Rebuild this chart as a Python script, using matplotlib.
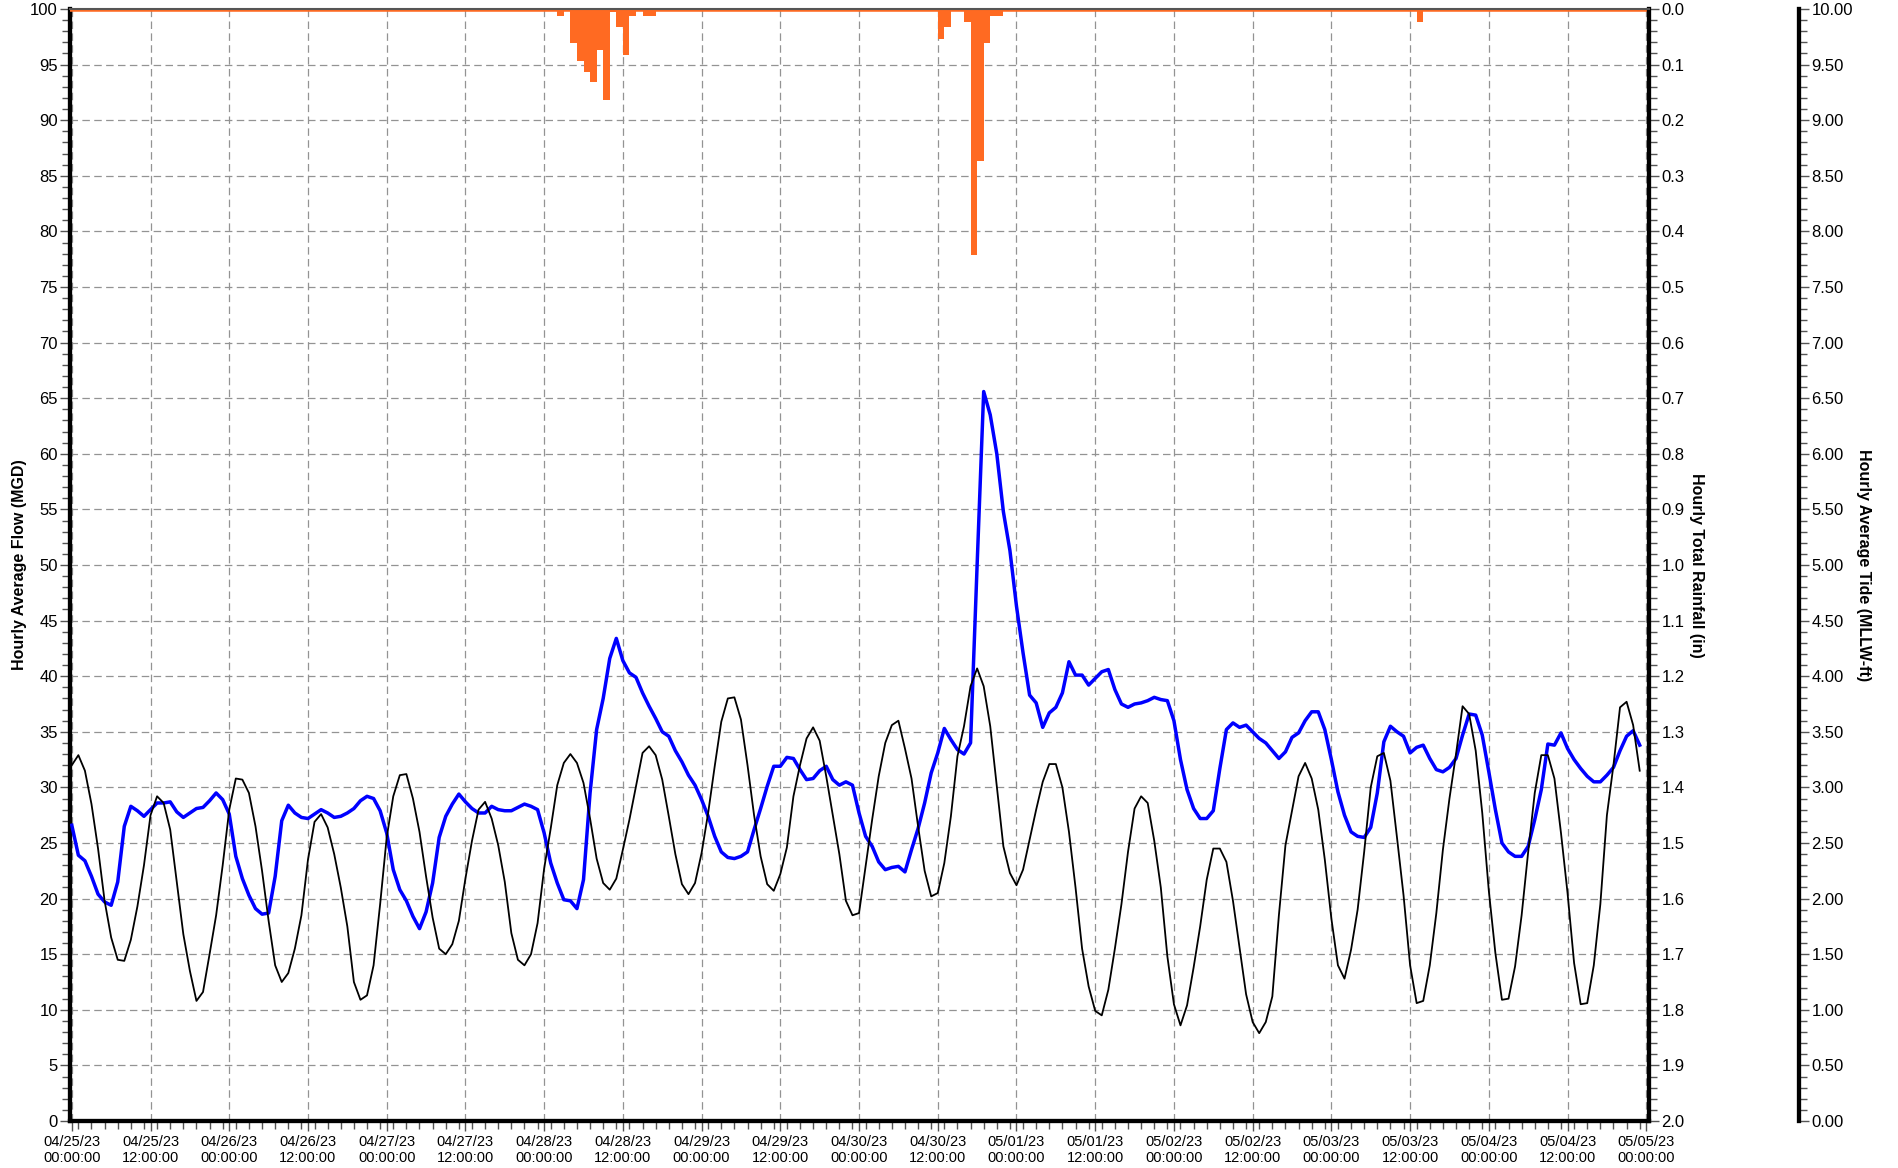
import matplotlib
matplotlib.use("Agg")
import matplotlib.pyplot as plt
import matplotlib.dates as mdates
from matplotlib.ticker import MultipleLocator, FormatStrFormatter
import pandas as pd

plt.rcParams['font.family'] = ['Liberation Sans', 'DejaVu Sans']

# hourly readings, 04/25/23 00:00 .. 05/04/23 23:00
start = pd.Timestamp("2023-04-25 00:00")

flow_mgd = [
    26.6, 23.9, 23.4, 22.0, 20.4, 19.7, 19.4, 21.5, 26.5, 28.3,
    27.9, 27.4, 28.0, 28.6, 28.6, 28.7, 27.8, 27.3, 27.7, 28.1,
    28.2, 28.8, 29.5, 28.9, 27.6, 23.8, 21.8, 20.3, 19.1, 18.6,
    18.7, 22.0, 27.0, 28.4, 27.7, 27.3, 27.2, 27.6, 28.0, 27.7,
    27.3, 27.4, 27.7, 28.1, 28.8, 29.2, 29.0, 27.9, 25.9, 22.6,
    20.8, 19.8, 18.4, 17.3, 18.8, 21.4, 25.5, 27.4, 28.5, 29.4,
    28.7, 28.1, 27.7, 27.7, 28.3, 28.0, 27.9, 27.9, 28.2, 28.5,
    28.3, 28.0, 25.9, 23.2, 21.4, 19.9, 19.8, 19.1, 21.7, 29.5,
    35.2, 38.0, 41.6, 43.4, 41.4, 40.3, 39.9, 38.5, 37.3, 36.2,
    35.0, 34.6, 33.3, 32.3, 31.1, 30.2, 28.9, 27.4, 25.6, 24.2,
    23.7, 23.6, 23.8, 24.2, 26.2, 28.1, 30.1, 31.9, 31.9, 32.7,
    32.6, 31.6, 30.7, 30.8, 31.5, 31.9, 30.7, 30.2, 30.5, 30.2,
    27.7, 25.6, 24.7, 23.3, 22.6, 22.8, 22.9, 22.4, 24.4, 26.3,
    28.6, 31.3, 33.1, 35.3, 34.3, 33.4, 33.0, 34.0, 50.0, 65.6,
    63.5, 60.0, 54.8, 51.3, 46.3, 42.1, 38.3, 37.6, 35.4, 36.7,
    37.2, 38.5, 41.3, 40.1, 40.1, 39.2, 39.8, 40.4, 40.6, 38.8,
    37.5, 37.2, 37.5, 37.6, 37.8, 38.1, 37.9, 37.8, 36.0, 32.5,
    29.8, 28.1, 27.2, 27.2, 27.9, 31.7, 35.2, 35.8, 35.4, 35.6,
    35.0, 34.4, 34.0, 33.3, 32.6, 33.2, 34.5, 34.9, 36.0, 36.8,
    36.8, 35.2, 32.5, 29.6, 27.5, 26.0, 25.6, 25.5, 26.4, 29.5,
    34.1, 35.5, 35.0, 34.6, 33.1, 33.6, 33.8, 32.6, 31.6, 31.4,
    31.8, 32.6, 34.7, 36.6, 36.5, 34.7, 31.4, 28.0, 25.0, 24.2,
    23.8, 23.8, 24.7, 27.1, 29.8, 33.9, 33.8, 34.9, 33.5, 32.5,
    31.7, 31.0, 30.5, 30.5, 31.1, 31.8, 33.3, 34.6, 35.1, 33.8,
]

tide_ft = [
    3.20, 3.29, 3.15, 2.85, 2.45, 1.98, 1.65, 1.45, 1.44, 1.63,
    1.93, 2.30, 2.75, 2.92, 2.86, 2.62, 2.15, 1.68, 1.35, 1.08,
    1.16, 1.50, 1.85, 2.30, 2.80, 3.08, 3.07, 2.95, 2.65, 2.25,
    1.80, 1.40, 1.25, 1.33, 1.55, 1.85, 2.35, 2.69, 2.76, 2.64,
    2.40, 2.10, 1.75, 1.25, 1.09, 1.13, 1.40, 1.95, 2.55, 2.92,
    3.11, 3.12, 2.90, 2.60, 2.20, 1.83, 1.55, 1.50, 1.59, 1.80,
    2.18, 2.52, 2.80, 2.87, 2.72, 2.48, 2.15, 1.69, 1.45, 1.40,
    1.50, 1.78, 2.27, 2.63, 3.02, 3.22, 3.30, 3.22, 3.04, 2.72,
    2.36, 2.14, 2.08, 2.18, 2.44, 2.71, 3.01, 3.31, 3.37, 3.29,
    3.07, 2.74, 2.40, 2.13, 2.04, 2.14, 2.41, 2.77, 3.19, 3.59,
    3.80, 3.81, 3.61, 3.20, 2.75, 2.38, 2.13, 2.07, 2.22, 2.46,
    2.92, 3.20, 3.44, 3.54, 3.42, 3.10, 2.75, 2.40, 1.98, 1.85,
    1.87, 2.29, 2.71, 3.10, 3.40, 3.56, 3.60, 3.35, 3.08, 2.65,
    2.25, 2.02, 2.05, 2.32, 2.74, 3.28, 3.55, 3.91, 4.07, 3.91,
    3.55, 3.01, 2.47, 2.23, 2.12, 2.26, 2.53, 2.80, 3.05, 3.21,
    3.21, 3.00, 2.60, 2.10, 1.55, 1.21, 0.99, 0.95, 1.18, 1.55,
    1.95, 2.42, 2.81, 2.92, 2.86, 2.52, 2.10, 1.48, 1.05, 0.86,
    1.04, 1.38, 1.75, 2.17, 2.45, 2.45, 2.33, 1.98, 1.56, 1.14,
    0.89, 0.79, 0.89, 1.12, 1.85, 2.48, 2.79, 3.10, 3.22, 3.08,
    2.80, 2.35, 1.82, 1.40, 1.28, 1.54, 1.90, 2.42, 3.00, 3.28,
    3.31, 3.06, 2.55, 2.03, 1.40, 1.06, 1.08, 1.40, 1.87, 2.44,
    2.90, 3.30, 3.73, 3.66, 3.33, 2.77, 2.07, 1.51, 1.09, 1.10,
    1.39, 1.85, 2.42, 2.95, 3.29, 3.29, 3.08, 2.59, 2.05, 1.42,
    1.05, 1.06, 1.40, 1.95, 2.75, 3.20, 3.72, 3.77, 3.56, 3.15,
]

# rainfall: hour offset from start, inches
rain_hour = [74, 76, 77, 78, 79, 80, 81, 82, 83, 84, 85, 87, 88,
             132, 133, 136, 137, 138, 139, 140, 141, 205]
rain_in = [0.012, 0.062, 0.093, 0.113, 0.131, 0.073, 0.163, 0.005, 0.032,
           0.082, 0.012, 0.012, 0.012, 0.054, 0.032, 0.023, 0.443, 0.273,
           0.062, 0.012, 0.012, 0.023]

times = pd.date_range(start, periods=len(flow_mgd), freq="h")
rain_times = [start + pd.Timedelta(hours=h) for h in rain_hour]

ORANGE = "#FF6A22"
TICK_GREY = "#555555"
GRID_GREY = "#939393"

fig = plt.figure(figsize=(18.98, 11.68), dpi=100)
ax = fig.add_axes([0.03714, 0.04024, 0.83167, 0.95205])
ax_rain = ax.twinx()
ax_tide = ax.twinx()

# flow
ax.plot(times, flow_mgd, color="#0000FF", lw=2.5, zorder=3)
ax.set_ylim(0, 100)
ax.set_xlim(start - pd.Timedelta(minutes=12), start + pd.Timedelta(hours=240, minutes=25))
ax.yaxis.set_major_locator(MultipleLocator(5))
ax.yaxis.set_minor_locator(MultipleLocator(1))
ax.xaxis.set_major_locator(mdates.HourLocator(byhour=[0, 12]))
ax.xaxis.set_minor_locator(mdates.HourLocator(interval=2))
ax.xaxis.set_major_formatter(mdates.DateFormatter("%m/%d/%y\n%H:%M:%S"))
ax.grid(True, which="major", color=GRID_GREY, linestyle=(0, (6, 3.5)), lw=0.9)
ax.set_axisbelow(True)

# rainfall hanging from the top
ax_rain.bar(rain_times, rain_in, width=1 / 24, align="edge", color=ORANGE, lw=0)
ax_rain.axhline(0, color=ORANGE, lw=4)
ax_rain.set_ylim(2.0, 0.0)
ax_rain.yaxis.set_major_locator(MultipleLocator(0.1))
ax_rain.yaxis.set_minor_locator(MultipleLocator(0.02))
ax_rain.yaxis.set_major_formatter(FormatStrFormatter("%.1f"))

# tide on its own offset axis
ax_tide.plot(times, tide_ft, color="black", lw=1.3, zorder=4)
ax_tide.set_ylim(0, 10)
ax_tide.spines["right"].set_position(("axes", 1.095))
ax_tide.yaxis.set_major_locator(MultipleLocator(0.5))
ax_tide.yaxis.set_minor_locator(MultipleLocator(0.1))
ax_tide.yaxis.set_major_formatter(FormatStrFormatter("%.2f"))

# spines
for a in (ax, ax_rain, ax_tide):
    for s in a.spines.values():
        s.set_visible(False)
ax.spines["left"].set_visible(True)
ax.spines["bottom"].set_visible(True)
ax.spines["left"].set_linewidth(3.1)
ax.spines["bottom"].set_linewidth(3.1)
ax_rain.spines["right"].set_visible(True)
ax_rain.spines["right"].set_linewidth(3.1)
ax_rain.spines["top"].set_visible(True)
ax_rain.spines["top"].set_linewidth(1.5)
ax_rain.spines["top"].set_color("#555555")
ax_tide.spines["right"].set_visible(True)
ax_tide.spines["right"].set_linewidth(3.1)

for a in (ax, ax_rain, ax_tide):
    a.tick_params(axis="y", which="major", length=7, width=1, color=TICK_GREY,
                  labelsize=12, pad=2)
    a.tick_params(axis="y", which="minor", length=6, width=1, color=TICK_GREY)
ax.tick_params(axis="x", which="major", length=7, width=1, color=TICK_GREY,
               labelsize=10.5, pad=3)
ax.tick_params(axis="x", which="minor", length=6, width=1, color=TICK_GREY)

lab = dict(fontsize=11.5, fontweight="bold", ha="center", va="center")
ax.text(-0.0323, 0.5, "Hourly Average Flow (MGD)", rotation=90,
        transform=ax.transAxes, **lab)
ax.text(1.0298, 0.5, "Hourly Total Rainfall (in)", rotation=270,
        transform=ax.transAxes, **lab)
ax.text(1.1356, 0.5, "Hourly Average Tide (MLLW-ft)", rotation=270,
        transform=ax.transAxes, **lab)

fig.savefig("out.png", dpi=100)
